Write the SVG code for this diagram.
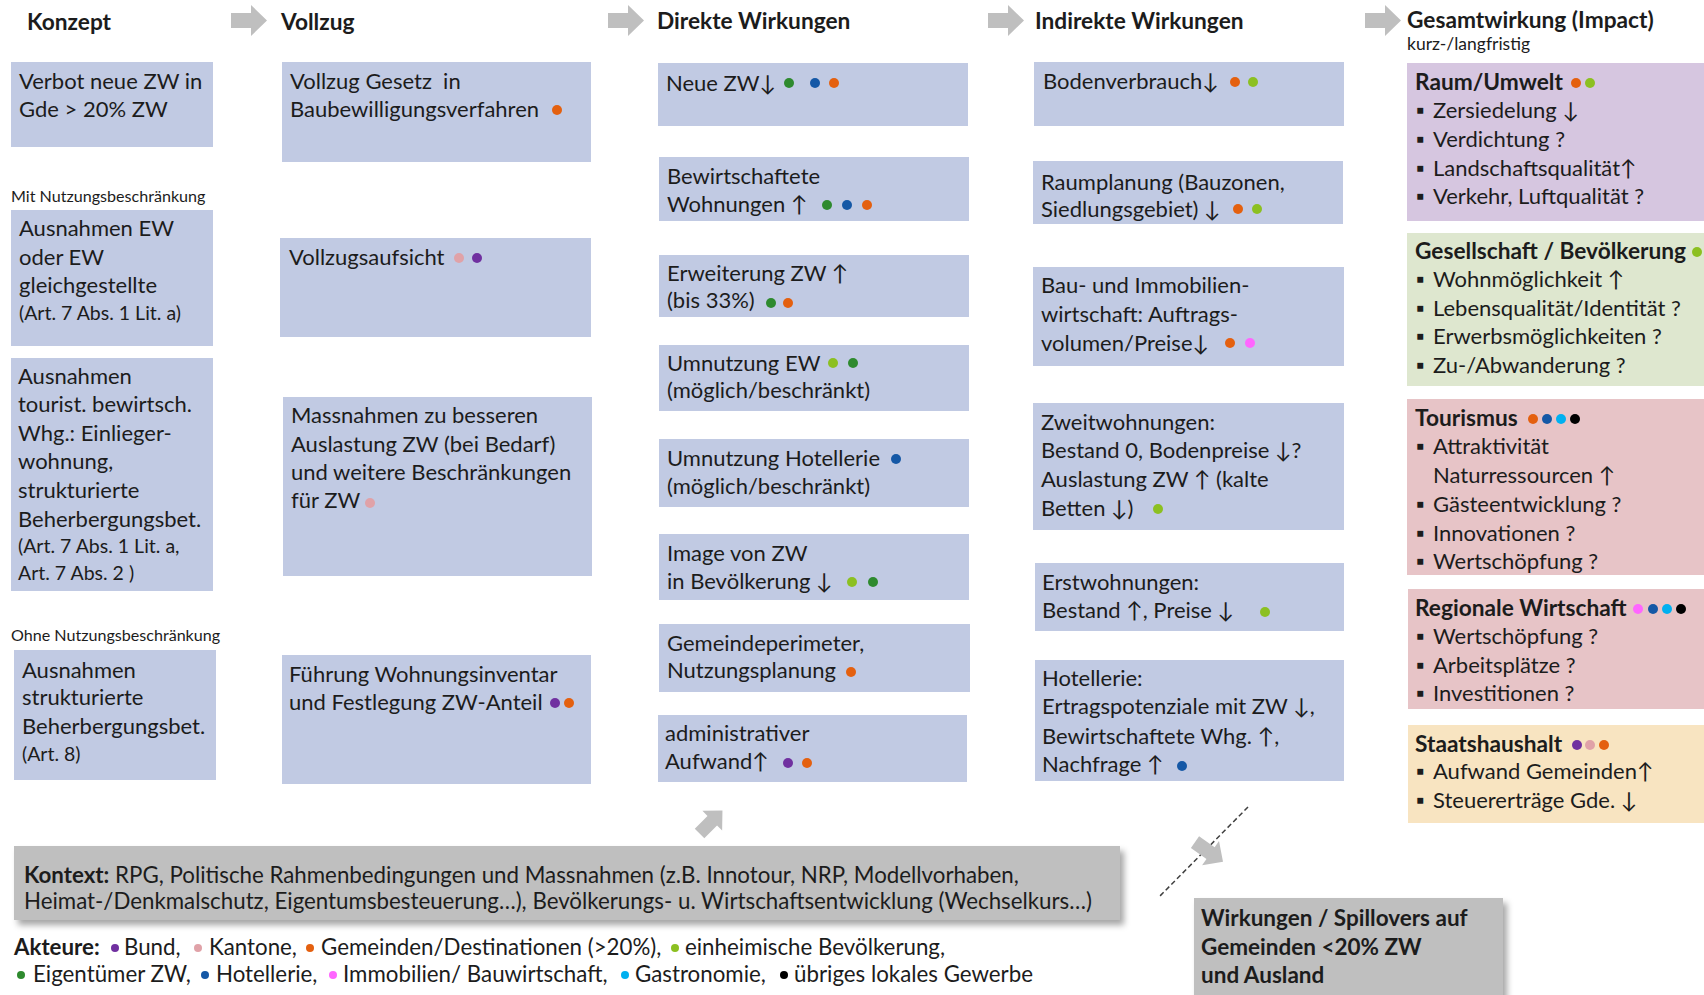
<svg xmlns="http://www.w3.org/2000/svg" width="1704" height="995" viewBox="0 0 1704 995">
<style>
text{font-family:Lato,"Liberation Sans","DejaVu Sans",sans-serif;fill:#1c1c1c}
.t{font-size:22px}
.s{font-size:19.5px}
.n{font-size:16.1px}
.kl{font-size:17.5px}
.h{font-size:22.7px;font-weight:bold}
.tt{font-size:22.7px;font-weight:bold}
.b{font-weight:bold}
.k{font-size:22.3px}
.sp{font-size:22.5px;font-weight:bold}
.box{fill:#C1CAE3}
.g1{fill:#D6C6E0}
.g2{fill:#DEE7CF}
.g3{fill:#E7C4C7}
.g5{fill:#F8E4C1}
.gray{fill:#BFBFBF}
.arr{fill:#BFBFBF}
.pu{fill:#7030A0}.pk{fill:#E0A2A8}.or{fill:#E4600F}.lg{fill:#8CC021}.dg{fill:#2E8A2E}.bl{fill:#1558A6}.mg{fill:#FF66FF}.cy{fill:#00B0F0}.bk{fill:#000}
</style>
<defs>
<path id="rarrow" d="M0,8 H20 V0 L36,15.5 L20,31 V23 H0 Z"/>
<filter id="sh" x="-5%" y="-20%" width="115%" height="160%">
<feDropShadow dx="4" dy="5" stdDeviation="3" flood-color="#000" flood-opacity="0.35"/>
</filter>
</defs>
<rect width="1704" height="995" fill="#fff"/>

<g id="connectors">
<use href="#rarrow" class="arr" transform="translate(231,5)"/>
<use href="#rarrow" class="arr" transform="translate(608,5)"/>
<use href="#rarrow" class="arr" transform="translate(988,5)"/>
<use href="#rarrow" class="arr" transform="translate(1365,5)"/>
<use href="#rarrow" class="arr" transform="translate(711,822) rotate(-45) scale(0.9) translate(-18,-15.5)"/>
<line x1="1248" y1="807" x2="1159" y2="897" stroke="#404040" stroke-width="1.5" stroke-dasharray="5,3"/>
<use href="#rarrow" class="arr" transform="translate(1209,852) rotate(35) scale(0.95) translate(-18,-15.5)"/>
</g>

<g id="headings">
<text class="h" x="27" y="30">Konzept</text>
<text class="h" x="281" y="30">Vollzug</text>
<text class="h" x="657" y="29">Direkte Wirkungen</text>
<text class="h" x="1035" y="29">Indirekte Wirkungen</text>
<text class="h" x="1407" y="28">Gesamtwirkung (Impact)</text>
<text class="kl" x="1407" y="50">kurz-/langfristig</text>
<text class="n" x="11" y="202">Mit Nutzungsbeschränkung</text>
<text class="n" x="11" y="641">Ohne Nutzungsbeschränkung</text>
</g>

<g id="k1"><rect class="box" x="11" y="62" width="202" height="85"/>
<text class="t" x="19" y="89">Verbot neue ZW in</text><text class="t" x="19" y="117">Gde &gt; 20% ZW</text></g>
<g id="k2"><rect class="box" x="11" y="210" width="202" height="136"/>
<text class="t" x="19" y="236">Ausnahmen EW</text><text class="t" x="19" y="265">oder EW</text><text class="t" x="19" y="293">gleichgestellte</text><text class="s" x="19" y="320">(Art. 7 Abs. 1 Lit. a)</text></g>
<g id="k3"><rect class="box" x="11" y="358" width="202" height="233"/>
<text class="t" x="18" y="384">Ausnahmen</text><text class="t" x="18" y="412">tourist. bewirtsch.</text><text class="t" x="18" y="441">Whg.: Einlieger-</text><text class="t" x="18" y="469">wohnung,</text><text class="t" x="18" y="498">strukturierte</text><text class="t" x="18" y="527">Beherbergungsbet.</text><text class="s" x="18" y="553">(Art. 7 Abs. 1 Lit. a,</text><text class="s" x="18" y="580">Art. 7 Abs. 2 )</text></g>
<g id="k4"><rect class="box" x="14" y="650" width="202" height="130"/>
<text class="t" x="22" y="678">Ausnahmen</text><text class="t" x="22" y="705">strukturierte</text><text class="t" x="22" y="734">Beherbergungsbet.</text><text class="s" x="22" y="761">(Art. 8)</text></g>

<g id="v1"><rect class="box" x="282" y="62" width="309" height="100"/>
<text class="t" x="290" y="89" xml:space="preserve">Vollzug Gesetz  in</text><text class="t" x="290" y="117">Baubewilligungsverfahren</text>
<circle class="or" cx="557" cy="110" r="5"/></g>
<g id="v2"><rect class="box" x="280" y="238" width="311" height="99"/>
<text class="t" x="289" y="265">Vollzugsaufsicht</text>
<circle class="pk" cx="459" cy="258" r="5"/><circle class="pu" cx="477" cy="258" r="5"/></g>
<g id="v3"><rect class="box" x="283" y="397" width="309" height="179"/>
<text class="t" x="291" y="423">Massnahmen zu besseren</text><text class="t" x="291" y="452">Auslastung ZW (bei Bedarf)</text><text class="t" x="291" y="480">und weitere Beschränkungen</text><text class="t" x="291" y="508">für ZW</text>
<circle class="pk" cx="370" cy="503" r="5"/></g>
<g id="v4"><rect class="box" x="282" y="655" width="309" height="129"/>
<text class="t" x="289" y="682">Führung Wohnungsinventar</text><text class="t" x="289" y="710">und Festlegung ZW-Anteil</text>
<circle class="pu" cx="555" cy="703" r="5"/><circle class="or" cx="569" cy="703" r="5"/></g>

<g id="d1"><rect class="box" x="658" y="63" width="310" height="63"/>
<text class="t" x="666" y="91">Neue ZW↓</text>
<circle class="dg" cx="789" cy="83" r="5"/><circle class="bl" cx="815" cy="83" r="5"/><circle class="or" cx="834" cy="83" r="5"/></g>
<g id="d2"><rect class="box" x="659" y="157" width="310" height="64"/>
<text class="t" x="667" y="184">Bewirtschaftete</text><text class="t" x="667" y="212">Wohnungen ↑</text>
<circle class="dg" cx="827" cy="205" r="5"/><circle class="bl" cx="847" cy="205" r="5"/><circle class="or" cx="867" cy="205" r="5"/></g>
<g id="d3"><rect class="box" x="659" y="255" width="310" height="62"/>
<text class="t" x="667" y="281">Erweiterung ZW ↑</text><text class="t" x="667" y="308">(bis 33%)</text>
<circle class="dg" cx="771" cy="303" r="5"/><circle class="or" cx="788" cy="303" r="5"/></g>
<g id="d4"><rect class="box" x="659" y="345" width="310" height="66"/>
<text class="t" x="667" y="371">Umnutzung EW</text><text class="t" x="667" y="398">(möglich/beschränkt)</text>
<circle class="lg" cx="833" cy="363" r="5"/><circle class="dg" cx="853" cy="363" r="5"/></g>
<g id="d5"><rect class="box" x="659" y="439" width="310" height="68"/>
<text class="t" x="667" y="466">Umnutzung Hotellerie</text><text class="t" x="667" y="494">(möglich/beschränkt)</text>
<circle class="bl" cx="896" cy="459" r="5"/></g>
<g id="d6"><rect class="box" x="659" y="534" width="310" height="66"/>
<text class="t" x="667" y="561">Image von ZW</text><text class="t" x="667" y="589">in Bevölkerung ↓</text>
<circle class="lg" cx="852" cy="582" r="5"/><circle class="dg" cx="873" cy="582" r="5"/></g>
<g id="d7"><rect class="box" x="659" y="624" width="311" height="68"/>
<text class="t" x="667" y="651">Gemeindeperimeter,</text><text class="t" x="667" y="678">Nutzungsplanung</text>
<circle class="or" cx="851" cy="672" r="5"/></g>
<g id="d8"><rect class="box" x="658" y="715" width="309" height="67"/>
<text class="t" x="665" y="741">administrativer</text><text class="t" x="665" y="769">Aufwand↑</text>
<circle class="pu" cx="788" cy="763" r="5"/><circle class="or" cx="807" cy="763" r="5"/></g>

<g id="i1"><rect class="box" x="1034" y="62" width="310" height="64"/>
<text class="t" x="1043" y="89">Bodenverbrauch↓</text>
<circle class="or" cx="1235" cy="82" r="5"/><circle class="lg" cx="1253" cy="82" r="5"/></g>
<g id="i2"><rect class="box" x="1033" y="161" width="310" height="63"/>
<text class="t" x="1041" y="190">Raumplanung (Bauzonen,</text><text class="t" x="1041" y="217">Siedlungsgebiet) ↓</text>
<circle class="or" cx="1238" cy="209" r="5"/><circle class="lg" cx="1257" cy="209" r="5"/></g>
<g id="i3"><rect class="box" x="1033" y="267" width="311" height="99"/>
<text class="t" x="1041" y="293">Bau- und Immobilien-</text><text class="t" x="1041" y="322">wirtschaft: Auftrags-</text><text class="t" x="1041" y="351">volumen/Preise↓</text>
<circle class="or" cx="1230" cy="343" r="5"/><circle class="mg" cx="1250" cy="343" r="5"/></g>
<g id="i4"><rect class="box" x="1033" y="403" width="311" height="127"/>
<text class="t" x="1041" y="430">Zweitwohnungen:</text><text class="t" x="1041" y="458">Bestand 0, Bodenpreise ↓?</text><text class="t" x="1041" y="487">Auslastung ZW ↑ (kalte</text><text class="t" x="1041" y="516">Betten ↓)</text>
<circle class="lg" cx="1158" cy="509" r="5"/></g>
<g id="i5"><rect class="box" x="1035" y="563" width="309" height="68"/>
<text class="t" x="1042" y="590">Erstwohnungen:</text><text class="t" x="1042" y="618">Bestand ↑, Preise ↓</text>
<circle class="lg" cx="1265" cy="612" r="5"/></g>
<g id="i6"><rect class="box" x="1035" y="660" width="309" height="121"/>
<text class="t" x="1042" y="686">Hotellerie:</text><text class="t" x="1042" y="714">Ertragspotenziale mit ZW ↓,</text><text class="t" x="1042" y="744">Bewirtschaftete Whg. ↑,</text><text class="t" x="1042" y="772">Nachfrage ↑</text>
<circle class="bl" cx="1182" cy="766" r="5"/></g>

<g id="g1"><rect class="g1" x="1407" y="63" width="300" height="158"/>
<text class="tt" x="1415" y="90">Raum/Umwelt</text>
<circle class="or" cx="1576" cy="83" r="5"/><circle class="lg" cx="1590" cy="83" r="5"/>
<text class="t"><tspan x="1416" y="118">▪</tspan><tspan x="1433" y="118">Zersiedelung ↓</tspan><tspan x="1416" y="147">▪</tspan><tspan x="1433" y="147">Verdichtung ?</tspan><tspan x="1416" y="176">▪</tspan><tspan x="1433" y="176">Landschaftsqualität↑</tspan><tspan x="1416" y="204">▪</tspan><tspan x="1433" y="204">Verkehr, Luftqualität ?</tspan></text></g>
<g id="g2"><rect class="g2" x="1407" y="233" width="300" height="153"/>
<text class="tt" x="1415" y="259">Gesellschaft / Bevölkerung</text>
<circle class="lg" cx="1697" cy="252" r="5"/>
<text class="t"><tspan x="1416" y="287">▪</tspan><tspan x="1433" y="287">Wohnmöglichkeit ↑</tspan><tspan x="1416" y="316">▪</tspan><tspan x="1433" y="316">Lebensqualität/Identität ?</tspan><tspan x="1416" y="344">▪</tspan><tspan x="1433" y="344">Erwerbsmöglichkeiten ?</tspan><tspan x="1416" y="373">▪</tspan><tspan x="1433" y="373">Zu-/Abwanderung ?</tspan></text></g>
<g id="g3"><rect class="g3" x="1407" y="399" width="300" height="176"/>
<text class="tt" x="1415" y="426">Tourismus</text>
<circle class="or" cx="1533" cy="419" r="5"/><circle class="bl" cx="1547" cy="419" r="5"/><circle class="cy" cx="1561" cy="419" r="5"/><circle class="bk" cx="1575" cy="419" r="5"/>
<text class="t"><tspan x="1416" y="454">▪</tspan><tspan x="1433" y="454">Attraktivität</tspan><tspan x="1433" y="483">Naturressourcen ↑</tspan><tspan x="1416" y="512">▪</tspan><tspan x="1433" y="512">Gästeentwicklung ?</tspan><tspan x="1416" y="541">▪</tspan><tspan x="1433" y="541">Innovationen ?</tspan><tspan x="1416" y="569">▪</tspan><tspan x="1433" y="569">Wertschöpfung ?</tspan></text></g>
<g id="g4"><rect class="g3" x="1408" y="589" width="300" height="120"/>
<text class="tt" x="1415" y="616">Regionale Wirtschaft</text>
<circle class="mg" cx="1638" cy="609" r="5"/><circle class="bl" cx="1653" cy="609" r="5"/><circle class="cy" cx="1667" cy="609" r="5"/><circle class="bk" cx="1681" cy="609" r="5"/>
<text class="t"><tspan x="1416" y="644">▪</tspan><tspan x="1433" y="644">Wertschöpfung ?</tspan><tspan x="1416" y="673">▪</tspan><tspan x="1433" y="673">Arbeitsplätze ?</tspan><tspan x="1416" y="701">▪</tspan><tspan x="1433" y="701">Investitionen ?</tspan></text></g>
<g id="g5"><rect class="g5" x="1408" y="725" width="300" height="98"/>
<text class="tt" x="1415" y="752">Staatshaushalt</text>
<circle class="pu" cx="1577" cy="745" r="5"/><circle class="pk" cx="1590" cy="745" r="5"/><circle class="or" cx="1604" cy="745" r="5"/>
<text class="t"><tspan x="1416" y="779">▪</tspan><tspan x="1433" y="779">Aufwand Gemeinden↑</tspan><tspan x="1416" y="808">▪</tspan><tspan x="1433" y="808">Steuererträge Gde. ↓</tspan></text></g>

<g id="kontext"><rect class="gray" x="14" y="846" width="1106" height="74" filter="url(#sh)"/>
<text class="k" x="24" y="883"><tspan class="b">Kontext:</tspan> RPG, Politische Rahmenbedingungen und Massnahmen (z.B. Innotour, NRP, Modellvorhaben,</text>
<text class="k" x="24" y="909">Heimat-/Denkmalschutz, Eigentumsbesteuerung…), Bevölkerungs- u. Wirtschaftsentwicklung (Wechselkurs…)</text></g>

<g id="spillover"><rect class="gray" x="1194" y="898" width="309" height="105" filter="url(#sh)"/>
<text class="sp" x="1201" y="926">Wirkungen / Spillovers auf</text><text class="sp" x="1201" y="955">Gemeinden &lt;20% ZW</text><text class="sp" x="1201" y="983">und Ausland</text></g>

<g id="akteure">
<text class="k"><tspan class="b" x="14" y="955">Akteure:</tspan><tspan x="124" y="955">Bund,</tspan><tspan x="209" y="955">Kantone,</tspan><tspan x="321" y="955">Gemeinden/Destinationen (&gt;20%),</tspan><tspan x="685" y="955">einheimische  Bevölkerung,</tspan>
<tspan x="33" y="982">Eigentümer ZW,</tspan><tspan x="216" y="982">Hotellerie,</tspan><tspan x="343" y="982">Immobilien/ Bauwirtschaft,</tspan><tspan x="635" y="982">Gastronomie,</tspan><tspan x="794" y="982">übriges lokales Gewerbe</tspan></text>
<circle class="pu" cx="115" cy="948" r="4"/><circle class="pk" cx="198" cy="948" r="4"/><circle class="or" cx="310" cy="948" r="4"/><circle class="lg" cx="675" cy="948" r="4"/>
<circle class="dg" cx="21" cy="975" r="4"/><circle class="bl" cx="205" cy="975" r="4"/><circle class="mg" cx="333" cy="975" r="4"/><circle class="cy" cx="625" cy="975" r="4"/><circle class="bk" cx="784" cy="975" r="4"/>
</g>
</svg>
